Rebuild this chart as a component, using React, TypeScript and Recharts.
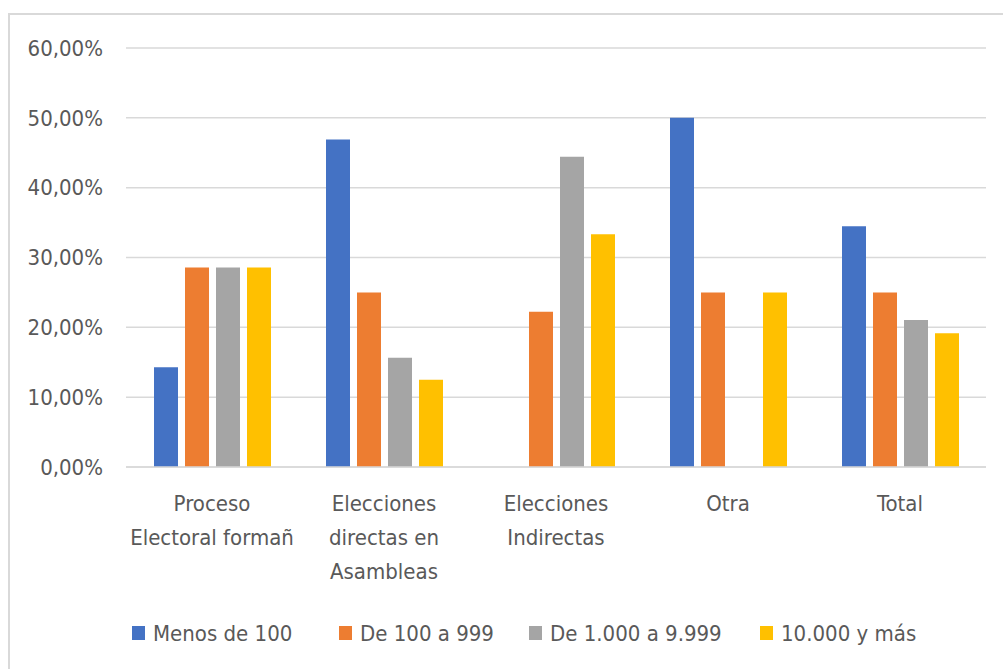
import { BarChart, Bar, XAxis, YAxis, CartesianGrid, Legend } from 'recharts'

const categories = [
  'Proceso Electoral formañ',
  'Elecciones directas en Asambleas',
  'Elecciones Indirectas',
  'Otra',
  'Total',
]

// wrapped tick labels, as they appear under each group
const categoryLines = [
  ['Proceso', 'Electoral formañ'],
  ['Elecciones', 'directas en', 'Asambleas'],
  ['Elecciones', 'Indirectas'],
  ['Otra'],
  ['Total'],
]

const menos100 = [14.29, 46.88, 0, 50, 34.48]
const de100a999 = [28.57, 25, 22.22, 25, 25]
const de1000a9999 = [28.57, 15.63, 44.44, 0, 21.05]
const de10000 = [28.57, 12.5, 33.33, 25, 19.14]

const seriesNames = ['Menos de 100', 'De 100 a 999', 'De 1.000 a 9.999', '10.000 y más']
const seriesColors = ['#4472C4', '#ED7D31', '#A5A5A5', '#FFC000']
const yTicks = [0, 10, 20, 30, 40, 50, 60]

const data = categories.map((name, i) => ({
  name,
  s0: menos100[i],
  s1: de100a999[i],
  s2: de1000a9999[i],
  s3: de10000[i],
}))

const FONT = "'DejaVu Sans Condensed', sans-serif"
const FS = 22
const TEXT = '#595959'
const GRID = '#d9d9d9'

const fmtPct = (v: number) => v.toFixed(2).replace('.', ',') + '%'

function CategoryTick({ x, y, index }: any) {
  const lines = categoryLines[index] ?? []
  return (
    <text x={x} y={y} textAnchor="middle" fill={TEXT} fontSize={FS} fontFamily={FONT}>
      {lines.map((l, i) => (
        <tspan key={i} x={x} y={y + 36 + i * 34}>
          {l}
        </tspan>
      ))}
    </text>
  )
}

const itemWidths = [207, 190, 231, 160]

function LegendBox() {
  return (
    <div style={{ display: 'flex', height: 40, alignItems: 'center', paddingLeft: 132, fontFamily: FONT, fontSize: FS, color: TEXT }}>
      {seriesNames.map((n, i) => (
        <div key={n} style={{ display: 'flex', alignItems: 'center', width: itemWidths[i], flexShrink: 0 }}>
          <span style={{ width: 13, height: 14, background: seriesColors[i], marginRight: 8, display: 'inline-block', flexShrink: 0 }} />
          <span style={{ whiteSpace: 'nowrap' }}>{n}</span>
        </div>
      ))}
    </div>
  )
}

export default function App() {
  return (
    <div style={{ position: 'absolute', left: 0, top: 0, width: 1003, height: 669, background: '#fff', overflow: 'hidden' }}>
      <div
        style={{
          position: 'absolute',
          left: 8,
          top: 13,
          width: 1000,
          height: 660,
          borderTop: `2px solid ${GRID}`,
          borderLeft: `2px solid ${GRID}`,
        }}
      />
      <div style={{ position: 'absolute', left: 0, top: 0 }}>
        <BarChart
          width={1003}
          height={669}
          data={data}
          margin={{ top: 48, right: 17, bottom: 16, left: 26 }}
          barSize={24}
          barGap={7}
        >
          <CartesianGrid vertical={false} stroke={GRID} strokeWidth={1.5} />
          <XAxis
            dataKey="name"
            height={146}
            tickLine={false}
            axisLine={{ stroke: GRID, strokeWidth: 1.5 }}
            tick={<CategoryTick />}
            interval={0}
          />
          <YAxis
            width={100}
            domain={[0, 60]}
            ticks={yTicks}
            axisLine={false}
            tickLine={false}
            tickMargin={17}
            tickFormatter={fmtPct}
            tick={{ fill: TEXT, fontSize: FS, fontFamily: FONT }}
          />
          <Legend
            verticalAlign="bottom"
            content={<LegendBox />}
            wrapperStyle={{ left: 0, width: 1003 }}
          />
          {['s0', 's1', 's2', 's3'].map((k, i) => (
            <Bar key={k} dataKey={k} name={seriesNames[i]} fill={seriesColors[i]} isAnimationActive={false} />
          ))}
        </BarChart>
      </div>
    </div>
  )
}
